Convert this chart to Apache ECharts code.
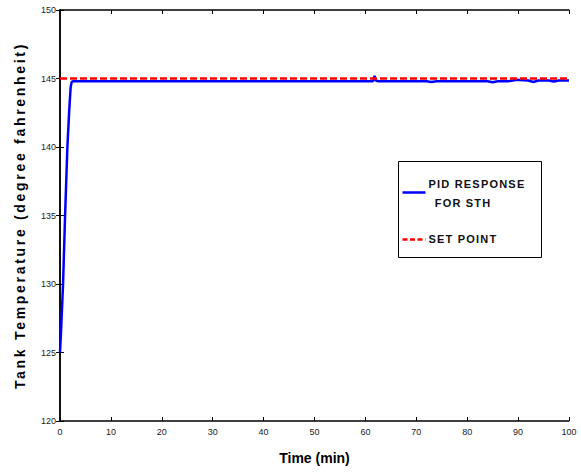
<!DOCTYPE html>
<html><head><meta charset="utf-8">
<script src="https://cdn.jsdelivr.net/npm/echarts@6/dist/echarts.min.js"></script>
<style>html,body{margin:0;padding:0;background:#fff}#c{width:581px;height:474px}</style>
</head><body><div id="c"></div>
<script>
const xTicks = [0,10,20,30,40,50,60,70,80,90,100];
const yTicks = [120,125,130,135,140,145,150];
const pidTime = [0,0.2,0.6,1.0,1.45,1.8,2.1,2.3,2.6,30,61.3,61.6,61.8,62.1,62.5,72,73,74,84,85,86,88,89,89.5,92,93,94,96,97,98,100];
const pidTemp = [125,126.5,130,135,140,142.6,144.4,144.75,144.8,144.8,144.8,144.85,145.2,144.85,144.8,144.8,144.75,144.8,144.8,144.72,144.8,144.8,144.85,144.9,144.85,144.75,144.85,144.85,144.78,144.85,144.85];
const setTime = [0,100];
const setTemp = [145,145];
const legendNames = ['PID RESPONSE',' FOR STH','SET POINT'];
const yName = 'Tank Temperature (degree fahrenheit)';

const chart = echarts.init(document.getElementById('c'), null, {renderer:'svg'});
const tickFont = {fontFamily:'Liberation Sans, Arial', fontSize:9, color:'#222'};
chart.setOption({
  animation:false,
  backgroundColor:'#fff',
  grid:{left:60,top:10,right:12,bottom:53},
  xAxis:[{
    type:'value',min:0,max:100,interval:10,position:'bottom',
    name:'Time (min)',nameLocation:'middle',nameGap:30,
    nameTextStyle:{fontFamily:'Liberation Sans',fontWeight:'bold',fontSize:14,color:'#000'},
    axisLine:{lineStyle:{color:'#000',width:1.5}},
    axisTick:{inside:true,length:4,lineStyle:{color:'#000'}},
    axisLabel:Object.assign({margin:6},tickFont),
    splitLine:{show:false}
  },{
    type:'value',min:0,max:100,interval:10,position:'top',
    axisLine:{lineStyle:{color:'#000',width:1.5}},
    axisTick:{inside:true,length:4,lineStyle:{color:'#000'}},
    axisLabel:{show:false},splitLine:{show:false}
  }],
  yAxis:[{
    type:'value',min:120,max:150,interval:5,position:'left',
    name:yName,nameLocation:'middle',nameGap:33,
    nameTextStyle:{fontFamily:'Liberation Sans',fontWeight:'bold',fontSize:14,color:'#000'},
    axisLine:{lineStyle:{color:'#000',width:1.5}},
    axisTick:{inside:true,length:4,lineStyle:{color:'#000'}},
    axisLabel:Object.assign({margin:4},tickFont),
    splitLine:{show:false}
  },{
    type:'value',min:120,max:150,interval:5,position:'right',
    axisLine:{lineStyle:{color:'#000',width:1.5}},
    axisTick:{inside:true,length:4,lineStyle:{color:'#000'}},
    axisLabel:{show:false},splitLine:{show:false}
  }],
  series:[{
    name:'PID RESPONSE FOR STH',type:'line',showSymbol:false,
    data:pidTime.map((t,i)=>[t,pidTemp[i]]),
    lineStyle:{color:'#0000ff',width:2.5},itemStyle:{color:'#0000ff'},z:2
  },{
    name:'SET POINT',type:'line',showSymbol:false,
    data:setTime.map((t,i)=>[t,setTemp[i]]),
    lineStyle:{color:'#ff0000',width:2.5,type:[7,3]},itemStyle:{color:'#ff0000'},z:3
  }],
  graphic:[{
    type:'group',left:398,top:161,
    children:[
      {type:'rect',shape:{x:0,y:0,width:143,height:96},style:{fill:'#fff',stroke:'#000',lineWidth:1}},
      {type:'line',shape:{x1:4,y1:31,x2:27,y2:31},style:{stroke:'#0000ff',lineWidth:2.5}},
      {type:'text',x:30,y:17,style:{text:legendNames[0],font:'bold 11px Liberation Sans',fill:'#111'}},
      {type:'text',x:32,y:36,style:{text:legendNames[1],font:'bold 11px Liberation Sans',fill:'#111'}},
      {type:'line',shape:{x1:4,y1:78,x2:27,y2:78},style:{stroke:'#ff0000',lineWidth:2.5,lineDash:[5,2.5]}},
      {type:'text',x:30,y:72,style:{text:legendNames[2],font:'bold 11px Liberation Sans',fill:'#111'}}
    ]
  }]
});
function spacing(){
  document.querySelectorAll('#c text').forEach(t=>{
    const s = t.textContent;
    if (s === yName) t.style.letterSpacing = '2.7px';
    else if (legendNames.some(n=>n.trim()===s.trim())) t.style.letterSpacing = '1.2px';
  });
}
chart.on('finished', spacing);
setTimeout(spacing, 0);
</script></body></html>
